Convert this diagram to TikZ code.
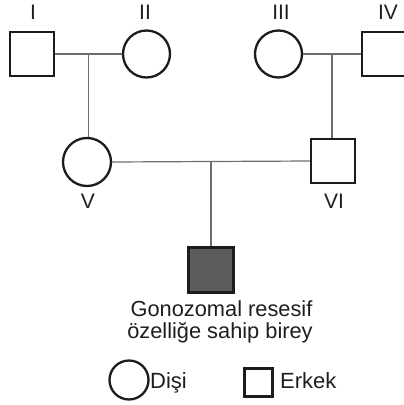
\documentclass[tikz,border=0pt]{standalone}
\usepackage{fontspec}
\setmainfont{Liberation Sans}
\usetikzlibrary{calc}
\definecolor{stroke}{HTML}{1C1C1C}
\definecolor{conn}{HTML}{6E6E6E}
\definecolor{aff}{HTML}{5A5C5E}
\definecolor{txt}{HTML}{1E1E1E}
\begin{document}
\begin{tikzpicture}[x=1pt,y=-1pt,
  male/.style={draw=stroke,line width=2.3pt,minimum size=44pt,inner sep=0pt,shape=rectangle},
  female/.style={draw=stroke,line width=2.3pt,minimum size=47pt,inner sep=0pt,shape=circle},
  affected/.style={fill=aff},
  conline/.style={draw=conn,line width=1.2pt},
  lbl/.style={anchor=base,text=txt,inner sep=0pt,font=\fontsize{21}{22}\selectfont},
  smallmale/.style={draw=stroke,line width=2.3pt,minimum size=28pt,inner sep=0pt,shape=rectangle},
  smallfemale/.style={draw=stroke,line width=2.3pt,minimum size=39pt,inner sep=0pt,shape=circle}]
\useasboundingbox (0,0) rectangle (404,405);
% generation I
\node[male] (I) at (32,54) {};
\node[female] (II) at (146.5,54) {};
\node[female] (III) at (278.5,54) {};
\node[male] (IV) at (384,54) {};
% generation II
\node[female,minimum size=48pt] (V) at (87,162) {};
\node[male] (VI) at (333,161) {};
% generation III
\node[male,affected,minimum size=45pt] (C) at (211,270) {};
% connectors
\draw[conline] (I.east) -- (II.west);
\draw[conline] (III.east) -- (IV.west);
\draw[conline] (V.east) -- (VI.west);
\coordinate (m1) at ($(I.east)!0.5!(II.west)$);
\coordinate (m2) at ($(III.east)!0.5!(IV.west)$);
\coordinate (m3) at ($(V.east)!0.5!(VI.west)$);
\draw[conline] (m1) -- (m1 |- V.north);
\draw[conline] (m2) -- (m2 |- VI.north);
\draw[conline] (m3) -- (m3 |- C.north);
% labels
\node[lbl] (lI) at (33,19) {I};
\node[lbl] (lII) at (145,19) {II};
\node[lbl] (lIII) at (281,19) {III};
\node[lbl] (lIV) at (388,19) {IV};
\node[lbl] (lV) at (88,208) {V};
\node[lbl] (lVI) at (334,208) {VI};
\node[lbl,font=\fontsize{21.8}{22}\selectfont] (t1) at (221.5,316) {Gonozomal resesif};
\node[lbl,font=\fontsize{21.8}{22}\selectfont] (t2) at (220,338) {özelliğe sahip birey};
% legend
\node[smallfemale] (lf) at (129,380) {};
\node[lbl,anchor=base west,font=\fontsize{22}{22}\selectfont] (lft) at (150,388) {Dişi};
\node[smallmale] (lm) at (258.5,382.5) {};
\node[lbl,anchor=base west,font=\fontsize{22}{22}\selectfont] (lmt) at (280,388) {Erkek};
\end{tikzpicture}
\end{document}
